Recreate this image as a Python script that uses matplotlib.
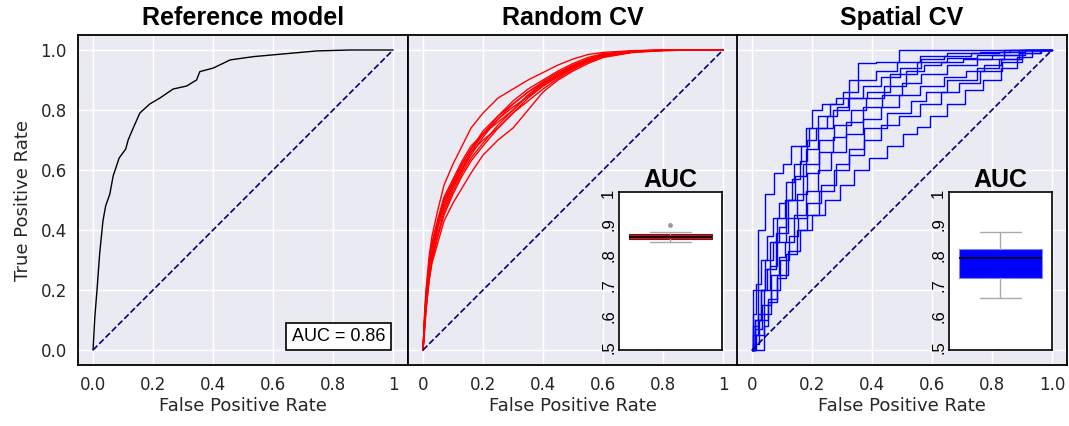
import matplotlib
matplotlib.use("Agg")
import matplotlib.pyplot as plt
import seaborn as sns

# ---- data ----
panel_titles = ["Reference model", "Random CV", "Spatial CV"]
x_ticks = [0, 0.2, 0.4, 0.6, 0.8, 1.0]
x_ticklabels = [
    ["0.0", "0.2", "0.4", "0.6", "0.8", "1"],
    ["0", "0.2", "0.4", "0.6", "0.8", "1"],
    ["0", "0.2", "0.4", "0.6", "0.8", "1.0"],
]
y_ticks = [0, 0.2, 0.4, 0.6, 0.8, 1.0]
chance_fpr = [0, 1]
chance_tpr = [0, 1]

# reference model ROC
ref_fpr = [0, 0.006, 0.014, 0.022, 0.033, 0.042, 0.056, 0.067, 0.087, 0.109, 0.117,
           0.134, 0.156, 0.189, 0.223, 0.267, 0.312, 0.345, 0.356, 0.401, 0.457,
           0.535, 0.635, 0.746, 0.857, 1.0]
ref_tpr = [0, 0.11, 0.21, 0.32, 0.43, 0.48, 0.52, 0.58, 0.64, 0.67, 0.70,
           0.74, 0.79, 0.82, 0.84, 0.87, 0.88, 0.90, 0.928, 0.94, 0.967,
           0.978, 0.987, 0.997, 1.0, 1.0]
ref_auc = 0.86

# random CV: 10 folds on a shared FPR grid
random_fpr = [0, 0.005, 0.01, 0.02, 0.03, 0.05, 0.07, 0.1, 0.13, 0.16, 0.2, 0.25,
              0.3, 0.35, 0.4, 0.45, 0.5, 0.55, 0.6, 0.7, 0.8, 0.9, 1.0]
random_tpr = [
    [0, .12, .20, .31, .38, .47, .55, .62, .68, .74, .79, .84, .87, .90, .925, .95, .97, .985, .992, .998, 1, 1, 1],
    [0, .10, .18, .28, .35, .43, .50, .56, .62, .67, .73, .78, .83, .87, .90, .93, .955, .975, .988, .997, 1, 1, 1],
    [0, .09, .16, .26, .33, .42, .49, .55, .60, .65, .71, .77, .82, .86, .895, .925, .95, .97, .985, .996, 1, 1, 1],
    [0, .08, .15, .25, .32, .41, .47, .54, .60, .66, .72, .76, .80, .85, .89, .92, .945, .968, .982, .995, .999, 1, 1],
    [0, .11, .19, .29, .36, .44, .51, .57, .63, .68, .72, .77, .81, .845, .88, .915, .94, .965, .98, .994, .999, 1, 1],
    [0, .07, .14, .24, .31, .39, .46, .53, .59, .64, .69, .75, .80, .85, .885, .92, .948, .97, .984, .996, 1, 1, 1],
    [0, .10, .17, .27, .34, .42, .48, .55, .61, .66, .70, .74, .79, .84, .88, .91, .94, .962, .978, .993, .998, 1, 1],
    [0, .06, .13, .23, .30, .38, .45, .52, .58, .63, .68, .74, .79, .83, .87, .905, .935, .96, .978, .994, .999, 1, 1],
    [0, .08, .14, .23, .29, .36, .43, .49, .54, .59, .65, .70, .74, .80, .86, .90, .93, .955, .975, .992, .998, 1, 1],
    [0, .09, .17, .27, .34, .43, .50, .56, .62, .67, .72, .78, .82, .86, .89, .915, .942, .965, .98, .995, .999, 1, 1],
]
random_auc = [0.842, 0.846, 0.849, 0.855, 0.857, 0.859, 0.865, 0.868, 0.875, 0.897]

# spatial CV: 10 folds, step curves
spatial_fpr = [
    [0, .01, .03, .06, .09, .12, .14, .17, .19, .21, .26, .30, .35, .36, .47, .51, 1],
    [0, .01, .02, .04, .06, .08, .10, .13, .15, .18, .20, .24, .28, .33, .38, .45, .52, .60, .70, .82, .90, 1],
    [0, .02, .04, .05, .07, .10, .12, .15, .17, .20, .23, .27, .30, .34, .40, .46, .53, .60, .68, .78, .87, .95, 1],
    [0, .01, .03, .06, .08, .10, .13, .16, .20, .24, .30, .35, .42, .50, .60, .70, .80, .88, 1],
    [0, .02, .04, .06, .10, .14, .20, .25, .30, .36, .40, .48, .55, .60, .66, .75, .85, .93, 1],
    [0, .01, .03, .05, .07, .10, .13, .17, .20, .25, .29, .34, .40, .47, .53, .60, .70, .80, .88, .94, 1],
    [0, .02, .05, .08, .10, .12, .16, .20, .24, .29, .34, .40, .46, .52, .60, .68, .75, .80, .86, .92, 1],
    [0, .03, .05, .08, .11, .14, .17, .20, .26, .30, .35, .40, .50, .56, .60, .70, .80, .85, .95, 1],
    [0, .01, .04, .07, .10, .13, .17, .20, .25, .30, .35, .40, .46, .52, .60, .66, .72, .80, .87, .93, 1],
    [0, .04, .04, .07, .10, .14, .18, .22, .27, .32, .36, .42, .48, .53, .57, .62, .68, .74, .80, .86, .91, .96, 1],
]
spatial_tpr = [
    [0, .20, .40, .52, .59, .62, .68, .68, .74, .80, .82, .84, .90, .956, .96, 1, 1],
    [0, .12, .22, .30, .38, .44, .49, .56, .62, .68, .74, .78, .82, .86, .90, .93, .96, .98, .99, .995, 1, 1],
    [0, .10, .20, .27, .36, .44, .50, .57, .63, .70, .74, .78, .81, .84, .88, .91, .94, .97, .98, .99, .995, 1, 1],
    [0, .08, .20, .30, .36, .41, .50, .58, .67, .74, .80, .84, .86, .92, .96, .975, .985, 1, 1],
    [0, .10, .20, .27, .39, .50, .62, .70, .75, .80, .84, .88, .93, .95, .96, .97, .985, 1, 1],
    [0, .05, .12, .20, .28, .36, .44, .52, .59, .66, .71, .76, .81, .85, .89, .92, .95, .97, .985, 1, 1],
    [0, .07, .15, .25, .31, .36, .45, .53, .60, .66, .72, .77, .81, .85, .88, .91, .93, .95, .97, .99, 1],
    [0, .05, .12, .20, .30, .38, .44, .49, .55, .62, .67, .74, .79, .83, .86, .90, .94, .97, 1, 1],
    [0, .02, .10, .17, .24, .32, .40, .45, .53, .60, .65, .70, .75, .78, .82, .86, .89, .93, .96, .99, 1],
    [0, 0, .08, .16, .25, .33, .40, .45, .50, .55, .60, .64, .68, .72, .744, .78, .82, .867, .90, .94, .978, 1, 1],
]
spatial_auc = [0.658, 0.70, 0.72, 0.74, 0.78, 0.80, 0.81, 0.82, 0.84, 0.874]

inset_ticks = [0.5, 0.6, 0.7, 0.8, 0.9, 1.0]
inset_ticklabels = [".5", ".6", ".7", ".8", ".9", "1"]

# ---- styling ----
sns.set_theme(style="darkgrid")
plt.rcParams["font.family"] = ["DejaVu Sans"]
arial = ["Liberation Sans", "DejaVu Sans"]

fig = plt.figure(figsize=(10.69, 4.26), dpi=100)
lefts = [0.073, 0.3817, 0.6894]
axes = [fig.add_axes([l, 0.1432, 0.3087, 0.7746]) for l in lefts]


def style_main(ax, i):
    ax.set_xlim(-0.05, 1.05)
    ax.set_ylim(-0.05, 1.05)
    ax.set_xticks(x_ticks)
    ax.set_xticklabels(x_ticklabels[i])
    ax.set_yticks(y_ticks)
    if i > 0:
        ax.set_yticklabels([])
    ax.tick_params(labelsize=12, length=0, pad=8)
    ax.set_xlabel("False Positive Rate", fontsize=13, labelpad=2)
    for s in ax.spines.values():
        s.set_visible(True)
        s.set_color("black")
        s.set_linewidth(1.3)
    ax.set_title(panel_titles[i], fontsize=18, fontweight="bold", family=arial,
                 color="black", pad=7)
    ax.plot(chance_fpr, chance_tpr, ls="--", color="navy", lw=1.2, zorder=3)


def add_inset(left, auc, color, edge):
    ins = fig.add_axes([left, 0.1784, 0.0964, 0.371])
    ins.set_facecolor("white")
    ins.grid(False)
    ins.boxplot(auc, positions=[1], widths=0.8, capwidths=0.4, patch_artist=True,
                boxprops=dict(facecolor=color, edgecolor=edge, linewidth=0.8),
                medianprops=dict(color="black", linewidth=1.2),
                whiskerprops=dict(color="#aaaaaa", linewidth=1),
                capprops=dict(color="#aaaaaa", linewidth=1),
                flierprops=dict(marker="o", markersize=2.5, markerfacecolor="#999999",
                                markeredgecolor="#999999"))
    ins.set_xlim(0.5, 1.5)
    ins.set_xticks([])
    ins.set_ylim(0.49, 1.005)
    ins.set_yticks(inset_ticks)
    ins.set_yticklabels(inset_ticklabels, rotation=90, va="center", family=arial)
    ins.tick_params(labelsize=12, length=0, pad=2, labelcolor="black")
    for s in ins.spines.values():
        s.set_visible(True)
        s.set_color("black")
        s.set_linewidth(1.2)
    ins.set_title("AUC", fontsize=18, fontweight="bold", family=arial,
                  color="black", pad=3)


for i, ax in enumerate(axes):
    style_main(ax, i)

axes[0].set_ylabel("True Positive Rate", fontsize=13, labelpad=6)
axes[0].plot(ref_fpr, ref_tpr, color="black", lw=1)
axes[0].text(0.818, 0.045, f"AUC = {ref_auc:.2f}", ha="center", va="center",
             fontsize=13, family=arial, color="black",
             bbox=dict(boxstyle="square,pad=0.3", fc="white", ec="black", lw=1.2))

for tpr in random_tpr:
    axes[1].plot(random_fpr, tpr, color="red", lw=1)

for fpr, tpr in zip(spatial_fpr, spatial_tpr):
    axes[2].plot(fpr, tpr, color="blue", lw=1, drawstyle="steps-mid")

add_inset(0.579, random_auc, "red", "#333333")
add_inset(0.8877, spatial_auc, "blue", "#8888cc")

fig.savefig("out.png", dpi=100)
